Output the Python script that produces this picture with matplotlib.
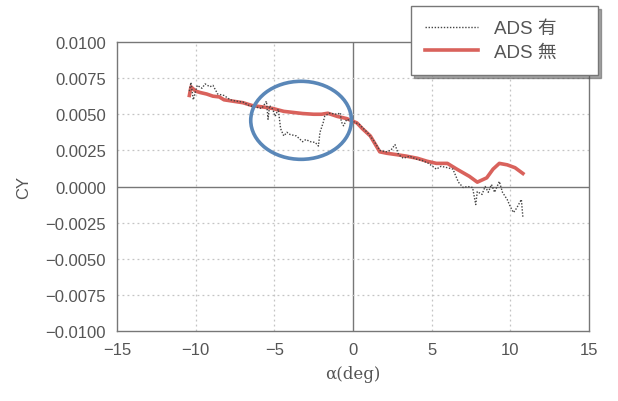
import matplotlib
matplotlib.use('Agg')

import numpy as np
import matplotlib.pyplot as plt
from matplotlib.patches import Ellipse

# ADS 無 (red, solid)
alpha_off = [-10.4, -10.3, -10.0, -9.7, -9.3, -8.9, -8.5, -8.2, -7.6, -7.0,
             -6.4, -5.7, -5.1, -4.4, -3.6, -3.2, -2.5, -2.0, -1.6, -1.0,
             -0.4, 0.25, 0.6, 1.1, 1.7, 2.15, 2.8, 3.4, 4.1, 4.7,
             5.3, 6.0, 6.6, 7.0, 7.4, 7.9, 8.5, 8.9, 9.3, 9.8,
             10.3, 10.8]
cy_off = [6.3, 6.9, 6.6, 6.5, 6.4, 6.25, 6.2, 6.0, 5.9, 5.8,
          5.6, 5.5, 5.4, 5.2, 5.1, 5.05, 5.0, 5.0, 5.07, 4.85,
          4.7, 4.4, 4.0, 3.5, 2.4, 2.3, 2.2, 2.1, 1.95, 1.75,
          1.6, 1.6, 1.2, 0.95, 0.7, 0.3, 0.6, 1.2, 1.6, 1.5,
          1.3, 0.9]

# ADS 有 (dark, dotted)
alpha_on = [-10.4, -10.3, -10.15, -9.9, -9.6, -9.4, -9.1, -8.9, -8.6, -8.2,
            -7.8, -7.4, -7.0, -6.6, -6.2, -5.8, -5.5, -5.4, -5.3, -5.1,
            -4.95, -4.75, -4.6, -4.4, -4.2, -4.0, -3.6, -3.2, -3.0, -2.7,
            -2.4, -2.2, -2.1, -1.9, -1.8, -1.5, -1.0, -0.8, -0.75, -0.6,
            -0.4, 0.0, 0.4, 0.9, 1.3, 1.7, 2.1, 2.4, 2.67, 2.9,
            3.2, 3.6, 4.0, 4.4, 4.8, 5.3, 5.6, 6.0, 6.35, 6.7,
            7.0, 7.3, 7.6, 7.8, 7.9, 8.2, 8.4, 8.6, 8.8, 9.0,
            9.3, 9.5, 9.8, 10.0, 10.2, 10.4, 10.6, 10.7, 10.8]
cy_on = [6.6, 7.2, 6.0, 7.0, 6.8, 7.1, 6.9, 7.0, 6.4, 6.3,
         6.0, 5.9, 5.85, 5.6, 5.5, 5.4, 5.9, 4.65, 5.6, 5.35,
         4.86, 5.35, 4.0, 3.5, 3.75, 3.6, 3.5, 3.1, 3.25, 3.1,
         3.05, 2.8, 3.75, 4.4, 4.86, 5.07, 5.0, 5.1, 4.5, 4.2,
         4.65, 4.5, 4.3, 3.75, 3.2, 2.5, 2.4, 2.5, 2.9, 2.2,
         1.95, 2.1, 1.9, 1.8, 1.6, 1.2, 1.4, 1.3, 1.2, 0.3,
         -0.07, 0.0, -0.07, -1.25, -0.35, -0.55, 0.0, -0.4, 0.14, -0.4,
         0.35, -0.4, -0.9, -1.4, -1.8, -1.5, -1.1, -0.9, -2.15]

xticks = [-15, -10, -5, 0, 5, 10, 15]
yticks = [-0.01, -0.0075, -0.005, -0.0025, 0.0, 0.0025, 0.005, 0.0075, 0.01]
labels = ['ADS 有', 'ADS 無']

plt.rcParams['font.family'] = ['Liberation Sans', 'Noto Sans CJK JP']
TXT = '#555555'

fig = plt.figure(figsize=(6.18, 4.02), dpi=100)
ax = fig.add_axes([117 / 618, 1 - 332 / 402, (589 - 117) / 618, (332 - 43) / 402])

# grid
for xv in xticks[1:-1]:
    if xv == 0:
        ax.axvline(xv, color='#777777', lw=1.0, zorder=1)
    else:
        ax.axvline(xv, color='#c4c4c4', lw=0.9, ls=(0, (1.5, 2.5)), zorder=1)
for yv in yticks[1:-1]:
    if yv == 0:
        ax.axhline(yv, color='#777777', lw=1.0, zorder=1)
    else:
        ax.axhline(yv, color='#c4c4c4', lw=0.9, ls=(0, (1.5, 2.5)), zorder=1)

ax.plot(alpha_off, np.array(cy_off) * 1e-3, color='#d9625c', lw=2.6,
        label=labels[1], zorder=3, solid_joinstyle='round')
ax.plot(alpha_on, np.array(cy_on) * 1e-3, color='#444444', lw=1.0,
        ls=(0, (1, 1.2)), label=labels[0], zorder=4)

ell = Ellipse((-3.3, 0.00458), 6.4, 0.0054, fill=False, ec='#5a87b8', lw=2.6, zorder=5)
ax.add_patch(ell)

ax.set_xlim(-15, 15)
ax.set_ylim(-0.01, 0.01)
ax.set_xticks(xticks)
ax.set_yticks(yticks)
ax.set_xticklabels([str(v).replace('-', '\u2212') for v in xticks])
ax.set_yticklabels([('%.4f' % v).replace('-', '\u2212') for v in yticks])
ax.tick_params(length=0, labelsize=12, labelcolor=TXT, pad=8)
for s in ax.spines.values():
    s.set_color('#777777')
    s.set_linewidth(1.0)

ax.set_ylabel('CY', fontsize=12, color=TXT, labelpad=10)
ax.set_xlabel('α(deg)', fontsize=12, color=TXT, family=['DejaVu Serif', 'Noto Sans CJK JP'], labelpad=6)

h, l = ax.get_legend_handles_labels()
leg = fig.legend(h[::-1], l[::-1], loc='upper left',
                 bbox_to_anchor=(411 / 618, 1 - 7 / 402, 187 / 618, 0.0), mode='expand',
                 frameon=True, fancybox=False, shadow=True, fontsize=13.5,
                 handlelength=2.8, handletextpad=0.9, borderpad=0.75, labelspacing=0.35,
                 borderaxespad=0)
leg.get_frame().set_edgecolor('#777777')
leg.get_frame().set_linewidth(1.0)
for t in leg.get_texts():
    t.set_color(TXT)

fig.savefig('out.png', dpi=100, facecolor='white')
